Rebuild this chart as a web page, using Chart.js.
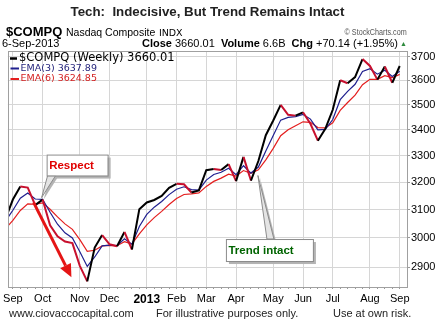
<!DOCTYPE html>
<html>
<head>
<meta charset="utf-8">
<script src="https://cdn.jsdelivr.net/npm/chart.js@4.4.0/dist/chart.umd.min.js"></script>
<style>
  html, body { margin: 0; padding: 0; background: #fff; }
  #wrap { position: relative; width: 435px; height: 325px; overflow: hidden; font-family: "Liberation Sans", Arial, sans-serif; color: #000; }
  #out { position: absolute; left: 0; top: 0; }
  .t { position: absolute; line-height: 1; white-space: nowrap; }
</style>
</head>
<body>
<div id="wrap">
  <canvas id="out" width="435" height="325"></canvas>
  <div class="t" style="left:0;width:415px;text-align:center;top:4.7px;font-size:13.3px;font-weight:bold;color:#222;">Tech:&nbsp; Indecisive, But Trend Remains Intact</div>
  <div class="t" style="left:6px;top:25px;font-size:13px;"><b>$COMPQ</b> <span style="font-size:10.5px">Nasdaq Composite</span> <span style="font-family:'DejaVu Sans';font-size:9.5px">INDX</span></div>
  <div class="t" style="right:28px;top:28px;font-size:9px;color:#555;transform:scaleX(0.8);transform-origin:right;">© StockCharts.com</div>
  <div class="t" style="left:2px;top:38px;font-size:11px;">6-Sep-2013</div>
  <div class="t" style="right:37px;top:38px;font-size:11px;"><b>Close</b> 3660.01&nbsp; <b>Volume</b> 6.6B&nbsp; <b>Chg</b> +70.14 (+1.95%)</div>
  <div class="t" style="left:400px;top:40px;font-size:7px;color:#2e8b3e;">▲</div>
  <div class="t" style="left:9px;top:307.7px;font-size:11px;color:#222;">www.ciovaccocapital.com</div>
  <div class="t" style="left:156px;top:307.7px;font-size:11px;color:#222;">For illustrative purposes only.</div>
  <div class="t" style="left:333px;top:307.7px;font-size:11px;color:#222;">Use at own risk.</div>
</div>
<script>
// weekly data, Nasdaq Composite, week ending
const weekEnding = [
  "2012-08-31", "2012-09-07", "2012-09-14", "2012-09-21", "2012-09-28",
  "2012-10-05", "2012-10-12", "2012-10-19", "2012-10-26", "2012-11-02",
  "2012-11-09", "2012-11-16", "2012-11-23", "2012-11-30", "2012-12-07",
  "2012-12-14", "2012-12-21", "2012-12-28", "2013-01-04", "2013-01-11",
  "2013-01-18", "2013-01-25", "2013-02-01", "2013-02-08", "2013-02-15",
  "2013-02-22", "2013-03-01", "2013-03-08", "2013-03-15", "2013-03-22",
  "2013-03-28", "2013-04-05", "2013-04-12", "2013-04-19", "2013-04-26",
  "2013-05-03", "2013-05-10", "2013-05-17", "2013-05-24", "2013-05-31",
  "2013-06-07", "2013-06-14", "2013-06-21", "2013-06-28", "2013-07-05",
  "2013-07-12", "2013-07-19", "2013-07-26", "2013-08-02", "2013-08-09",
  "2013-08-16", "2013-08-23", "2013-08-30", "2013-09-06"
];
const closes = [
  3066.96, 3136.42, 3183.95, 3179.96, 3116.23, 3136.19, 3044.11, 3005.62, 2987.95, 2982.13,
  2904.87, 2853.13, 2966.85, 3010.24, 2978.04, 2971.33, 3021.01, 2960.31, 3101.66, 3125.64,
  3134.71, 3149.71, 3179.10, 3193.87, 3192.00, 3161.82, 3169.74, 3244.37, 3249.07, 3245.00,
  3267.52, 3203.86, 3294.95, 3206.06, 3279.26, 3378.63, 3436.58, 3498.97, 3459.14, 3455.91,
  3469.22, 3423.56, 3357.25, 3403.25, 3479.38, 3600.08, 3587.61, 3613.16, 3689.59, 3660.11,
  3602.78, 3657.79, 3589.87, 3660.01
];
const ema3 = [
  3059.28, 3097.85, 3140.90, 3160.43, 3138.33, 3137.26, 3090.69, 3048.15, 3018.05, 3000.09,
  2952.48, 2902.81, 2934.83, 2972.53, 2975.29, 2973.31, 2997.16, 2978.74, 3040.20, 3082.92,
  3108.82, 3129.26, 3154.18, 3174.03, 3183.01, 3172.42, 3171.08, 3207.72, 3228.40, 3236.70,
  3252.11, 3227.98, 3261.47, 3233.76, 3256.51, 3317.57, 3377.08, 3438.02, 3448.58, 3452.25,
  3460.73, 3442.15, 3399.70, 3401.47, 3440.43, 3520.25, 3553.93, 3583.55, 3636.57, 3648.34,
  3625.56, 3641.67, 3615.77, 3637.89
];
const ema6 = [
  3032.20, 3061.98, 3096.83, 3120.58, 3119.34, 3124.15, 3101.28, 3073.95, 3049.38, 3030.17,
  2994.37, 2954.02, 2957.69, 2972.70, 2974.23, 2973.40, 2987.00, 2979.37, 3014.31, 3046.12,
  3071.43, 3093.80, 3118.17, 3139.80, 3154.71, 3156.74, 3160.45, 3184.43, 3202.90, 3214.93,
  3229.96, 3222.50, 3243.20, 3232.59, 3245.92, 3283.84, 3327.48, 3376.48, 3400.10, 3416.05,
  3431.24, 3429.05, 3408.54, 3407.03, 3427.70, 3476.95, 3508.57, 3538.45, 3581.63, 3604.05,
  3603.69, 3619.15, 3610.78, 3624.85
];
const monthTickWeeks = ["2012-09-07", "2012-10-05", "2012-11-09", "2012-12-07", "2013-01-11", "2013-02-08",
  "2013-03-08", "2013-04-05", "2013-05-10", "2013-06-07", "2013-07-05", "2013-08-09", "2013-09-06"];
const monthTickLabels = ["Sep", "Oct", "Nov", "Dec", "2013", "Feb", "Mar", "Apr", "May", "Jun", "Jul", "Aug", "Sep"];
const priceTicks = [2900, 3000, 3100, 3200, 3300, 3400, 3500, 3600, 3700];

const downColor = "#c8102e";
const gridColor = "#d6d6d6";

const monthLabelAt = {};
monthTickWeeks.forEach((w, i) => { monthLabelAt[weekEnding.indexOf(w)] = monthTickLabels[i]; });

function points(values) {
  return values.map((v, i) => ({x: i, y: v}));
}

// callouts: anchored on a week's close
const notes = [
  {text: "Respect", week: "2012-10-05", color: "#e00000", tip: [-1, -2], box: [4, -45, 61, 21], base: [5, 13]},
  {text: "Trend intact", week: "2013-04-19", color: "#006400", tip: [7, -5], box: [-25, 58.5, 87, 22], base: [16, 23]}
];
const arrow = {from: {x: 3.78, y: 3126}, to: {x: 8.87, y: 2867}};

const overlay = {
  id: "overlay",
  beforeDraw(chart) {
    const c = chart.ctx;
    c.save();
    c.fillStyle = "#fff";
    c.fillRect(0, 0, chart.width, chart.height);
    c.restore();
  },
  afterDatasetsDraw(chart) {
    const c = chart.ctx;
    const xs = chart.scales.x, ys = chart.scales.y;
    const a = chart.chartArea;

    // legend
    c.save();
    c.textBaseline = "middle";
    const ds = chart.data.datasets;
    const rows = [
      {y: 58.5, size: 11.5, color: "#000", lw: 2.5, x0: 10, x1: 17, tx: 19},
      {y: 68.5, size: 9.5, color: "#1f1f78", lw: 2, x0: 10.5, x1: 19, tx: 20.5},
      {y: 79, size: 9.5, color: "#d42020", lw: 2, x0: 10.5, x1: 19, tx: 20.5}
    ];
    rows.forEach((r, i) => {
      const d = ds[i];
      c.strokeStyle = i === 0 ? "#000" : d.borderColor;
      c.lineWidth = r.lw;
      c.beginPath(); c.moveTo(r.x0, r.y); c.lineTo(r.x1, r.y); c.stroke();
      c.fillStyle = r.color;
      c.font = r.size + "px 'DejaVu Sans'";
      c.fillText(d.label + " " + d.data[d.data.length - 1].y.toFixed(2), r.tx, r.y);
    });

    // red arrow
    const x0 = xs.getPixelForValue(arrow.from.x), y0 = ys.getPixelForValue(arrow.from.y);
    const x1 = xs.getPixelForValue(arrow.to.x), y1 = ys.getPixelForValue(arrow.to.y);
    const len = Math.hypot(x1 - x0, y1 - y0);
    const ux = (x1 - x0) / len, uy = (y1 - y0) / len;
    const hb = 13, hw = 6;
    const bx = x1 - ux * hb, by = y1 - uy * hb;
    c.strokeStyle = "#e51515";
    c.fillStyle = "#e51515";
    c.lineWidth = 3;
    c.beginPath(); c.moveTo(x0, y0); c.lineTo(bx, by); c.stroke();
    c.beginPath();
    c.moveTo(x1, y1);
    c.lineTo(bx - uy * hw, by + ux * hw);
    c.lineTo(bx + uy * hw, by - ux * hw);
    c.closePath(); c.fill();

    // callouts
    notes.forEach(n => {
      const i = weekEnding.indexOf(n.week);
      const px = xs.getPixelForValue(i), py = ys.getPixelForValue(closes[i]);
      const tx = px + n.tip[0], ty = py + n.tip[1];
      const bx = px + n.box[0], by = py + n.box[1], bw = n.box[2], bh = n.box[3];
      const edgeY = n.box[1] < 0 ? by + bh : by;
      // shadow
      c.fillStyle = "#b4b4b4";
      c.fillRect(bx + 3, by + 3, bw, bh);
      c.beginPath();
      c.moveTo(tx + 2, ty + 2);
      c.lineTo(px + n.base[0] + 2, edgeY + 2);
      c.lineTo(px + n.base[1] + 2, edgeY + 2);
      c.closePath(); c.fill();
      // pointer
      c.fillStyle = "#e4e4e4";
      c.strokeStyle = "#8c8c8c";
      c.lineWidth = 1;
      c.beginPath();
      c.moveTo(tx, ty);
      c.lineTo(px + n.base[0], edgeY);
      c.lineTo(px + n.base[1], edgeY);
      c.closePath(); c.fill(); c.stroke();
      // box
      c.fillStyle = "#fff";
      c.fillRect(bx, by, bw, bh);
      c.strokeStyle = "#8c8c8c";
      c.strokeRect(bx + 0.5, by + 0.5, bw, bh);
      c.fillStyle = n.color;
      c.font = "bold 11.5px 'Liberation Sans'";
      c.textBaseline = "middle";
      c.fillText(n.text, bx + 2.5, by + bh / 2 + 0.5);
    });

    // plot frame
    c.strokeStyle = "#a0a0a0";
    c.lineWidth = 1;
    c.strokeRect(Math.round(a.left) + 0.5, Math.round(a.top) + 0.5, Math.round(a.right - a.left), Math.round(a.bottom - a.top));
    c.restore();
  }
};

Chart.defaults.font.family = "'Liberation Sans', Arial, sans-serif";
Chart.defaults.color = "#000";

const canvasCtx = document.getElementById("out").getContext("2d");
const chart = new Chart(canvasCtx, {
  type: "line",
  data: {
    datasets: [
      {
        label: "$COMPQ (Weekly)",
        data: points(closes),
        borderColor: "#000",
        borderWidth: 2,
        segment: {
          borderColor: s => (s.p1.parsed.y < s.p0.parsed.y ? downColor : "#000")
        }
      },
      {label: "EMA(3)", data: points(ema3), borderColor: "#1f1f8f", borderWidth: 1.2},
      {label: "EMA(6)", data: points(ema6), borderColor: "#e41e1e", borderWidth: 1.2}
    ]
  },
  options: {
    responsive: false,
    animation: false,
    events: [],
    elements: {point: {radius: 0}, line: {tension: 0}},
    layout: {padding: {left: 7, top: 51, right: 0, bottom: 0}},
    plugins: {legend: {display: false}, tooltip: {enabled: false}},
    scales: {
      x: {
        type: "linear",
        min: 0.33,
        max: 53.98,
        afterBuildTicks: s => { s.ticks = weekEnding.map((w, i) => ({value: i})).filter(t => t.value >= 1); },
        afterFit: s => { s.height = 38; },
        border: {display: false},
        grid: {
          color: ctx => (ctx.tick && monthLabelAt[ctx.tick.value] !== undefined ? gridColor : "rgba(0,0,0,0)"),
          tickColor: "#9a9a9a",
          tickLength: 2,
          lineWidth: 1
        },
        ticks: {
          autoSkip: false,
          maxRotation: 0,
          padding: 3,
          callback: v => monthLabelAt[v] || "",
          font: ctx => ({size: ctx.tick && ctx.tick.label === "2013" ? 12 : 11, weight: ctx.tick && ctx.tick.label === "2013" ? "bold" : "normal"})
        }
      },
      y: {
        type: "logarithmic",
        position: "right",
        min: 2834.7,
        max: 3724,
        afterBuildTicks: s => { s.ticks = priceTicks.map(v => ({value: v})); },
        afterFit: s => { s.width = 28; },
        border: {display: false},
        grid: {color: gridColor, tickColor: "#9a9a9a", tickLength: 3},
        ticks: {
          autoSkip: false,
          padding: 1,
          font: {size: 11},
          callback: v => String(v)
        }
      }
    }
  },
  plugins: [overlay]
});
</script>
</body>
</html>
